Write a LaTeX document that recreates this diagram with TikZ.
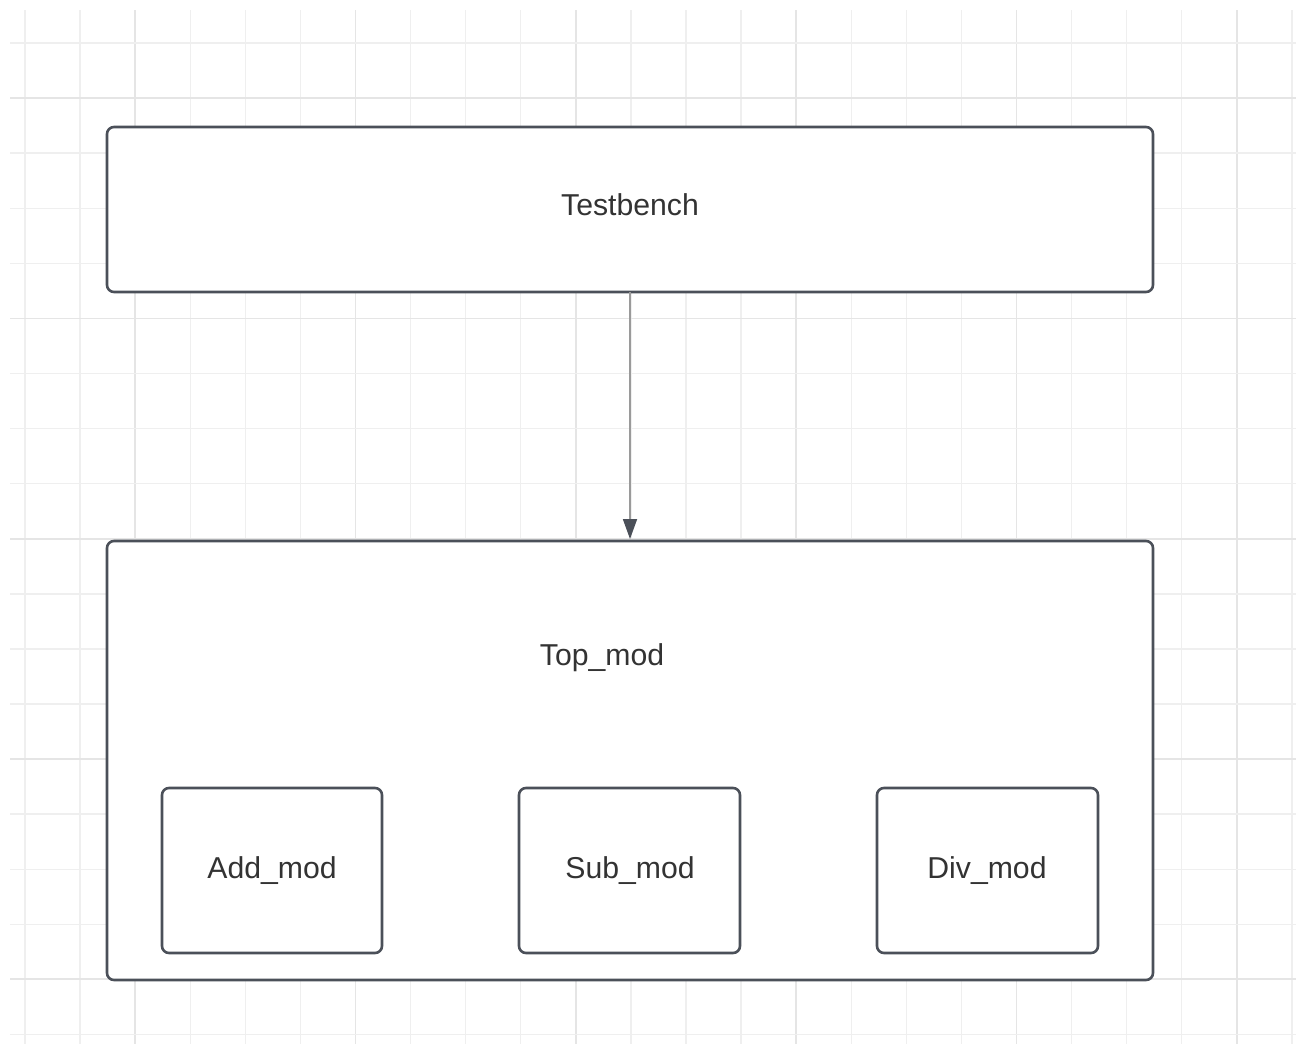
\documentclass[tikz,border=0pt]{standalone}
\usepackage{fontspec}
\setmainfont{Liberation Sans}
\usetikzlibrary{arrows.meta}
\definecolor{gridc}{HTML}{EFEFEF}
\definecolor{gridd}{HTML}{E5E5E5}
\definecolor{boxc}{HTML}{4B5059}
\definecolor{txtc}{HTML}{333333}
\definecolor{arrc}{HTML}{9A9A9A}
\tikzset{
  modbox/.style={draw=boxc, line width=2.6pt, rounded corners=7pt, fill=white, inner sep=0pt},
  lbl/.style={text=txtc, font=\fontsize{30.2}{36}\selectfont, inner sep=0pt},
  gline/.style={draw=gridc, line width=1.4pt},
  gdark/.style={draw=gridd, line width=1.8pt},
}
\begin{document}
\begin{tikzpicture}[x=1pt,y=-1pt]
\useasboundingbox (0,0) rectangle (1301,1044);
% grid
\foreach \k in {0,...,23}{
  \pgfmathsetmacro{\xx}{25+55.08*\k}
  \pgfmathtruncatemacro{\m}{mod(\k,4)}
  \ifnum\m=2 \draw[gdark] (\xx,10) -- (\xx,1044); \else \draw[gline] (\xx,10) -- (\xx,1044); \fi
}
\foreach \k in {0,...,18}{
  \pgfmathsetmacro{\yy}{43+55.08*\k}
  \pgfmathtruncatemacro{\m}{mod(\k,4)}
  \ifnum\m=1 \draw[gdark] (10,\yy) -- (1296,\yy); \else \draw[gline] (10,\yy) -- (1296,\yy); \fi
}
% boxes
\draw[modbox] (107,127) rectangle (1153,292);
\coordinate (tbtop) at (630,127);
\node[lbl] (tb) at (630,205) {Testbench};
\coordinate (tbbot) at (630,292);
\draw[modbox] (107,541) rectangle (1153,980);
\coordinate (toptop) at (630,540);
\node[lbl] (top) at (602,658) {Top\_mod};
\draw[modbox] (162,788) rectangle (382,953);
\node[lbl] (add) at (272,871) {Add\_mod};
\draw[modbox] (519,788) rectangle (740,953);
\node[lbl] (sub) at (630,871) {Sub\_mod};
\draw[modbox] (877,788) rectangle (1098,953);
\node[lbl] (div) at (987,871) {Div\_mod};
% arrow
\draw[draw=arrc, line width=1.8pt, -{Triangle[length=20pt,width=14pt,fill=boxc,color=boxc]}] (tbbot) -- ([yshift=1pt]toptop);
\end{tikzpicture}
\end{document}
